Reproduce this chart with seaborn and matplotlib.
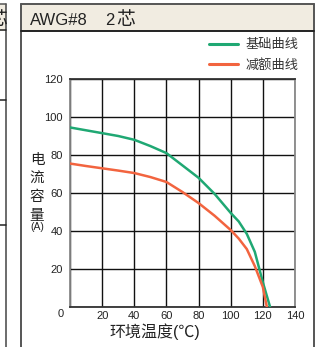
import matplotlib
matplotlib.use("Agg")
import matplotlib.pyplot as plt
import matplotlib.transforms as mtrans
from matplotlib.patches import Rectangle
from matplotlib.lines import Line2D
import seaborn as sns
import pandas as pd

# ---- data ----
temp_base = [0, 10, 20, 30, 40, 50, 60, 70, 80, 90, 100, 105, 110, 115, 120, 124.5]
amp_base = [94.5, 93, 91.5, 90, 88, 84.7, 81, 74.5, 68, 59.5, 49.5, 45, 38.5, 29, 13, 0]
temp_derate = [0, 10, 20, 30, 40, 50, 60, 70, 80, 90, 100, 105, 110, 115, 120, 122.5]
amp_derate = [75.5, 74.2, 73, 71.8, 70.5, 68.4, 65.8, 60.5, 54.7, 48, 40.5, 36, 30.5, 21.5, 10.5, 0]
series_names = ["基础曲线", "减额曲线"]
x_ticks = [0, 20, 40, 60, 80, 100, 120, 140]
y_ticks = [0, 20, 40, 60, 80, 100, 120]
title_parts = ["AWG#8", "2", "芯"]
x_label = "环境温度(℃)"
y_label_chars = ["电", "流", "容", "量"]
y_unit = "(A)"

df = pd.concat([
    pd.DataFrame({"t": temp_base, "a": amp_base, "s": series_names[0]}),
    pd.DataFrame({"t": temp_derate, "a": amp_derate, "s": series_names[1]}),
])

sns.set_theme(style="white")
plt.rcParams["font.family"] = ["Liberation Sans", "Noto Sans CJK SC"]

W, H = 319, 347
fig = plt.figure(figsize=(W / 100, H / 100), dpi=100)

def fx(px):
    return px / W

def fy(py):
    return 1 - py / H

# outer panel frames and title bands
for x0, x1 in [(21, 314), (0, 6)]:
    fig.patches.append(Rectangle((fx(x0), fy(31)), fx(x1) - fx(x0), fy(4) - fy(31),
                                 transform=fig.transFigure, facecolor="#f1ece1",
                                 edgecolor="none", zorder=0))
for xs, ys, c, lw in [
    ([21, 21], [4, 347], "#555555", 1.4),
    ([314, 314], [4, 347], "#555555", 1.4),
    ([21, 314], [4, 4], "#555555", 1.4),
    ([21, 314], [31, 31], "#222222", 1.4),
    ([6, 6], [4, 347], "#444444", 1.1),
    ([0, 6], [4, 4], "#555555", 1.1),
    ([0, 6], [30, 30], "#222222", 1.1),
    ([0, 6], [100, 100], "#222222", 1.1),
    ([0, 6], [225, 225], "#222222", 1.1),
]:
    fig.add_artist(Line2D([fx(v) for v in xs], [fy(v) for v in ys],
                          transform=fig.transFigure, color=c, lw=lw))

fig.text(fx(30), fy(25), title_parts[0], fontsize=12, color="#222222", ha="left", va="baseline")
fig.text(fx(105), fy(25), title_parts[1], fontsize=12, color="#222222", ha="left", va="baseline")
fig.text(fx(116), fy(25.5), title_parts[2], fontsize=13.5, color="#222222", ha="left", va="baseline")
fig.text(fx(7), fy(25.5), title_parts[2], fontsize=13.5, color="#222222", ha="right", va="baseline")

ax = fig.add_axes([fx(70), fy(307), fx(295) - fx(70), fy(79) - fy(307)])
sns.lineplot(data=df, x="t", y="a", hue="s", palette=["#1fa873", "#f2643f"],
             linewidth=1.8, ax=ax, sort=False, estimator=None, zorder=3)
ax.set_xlim(0, 140)
ax.set_ylim(0, 120)
ax.set_xticks(x_ticks)
ax.set_xticklabels([""] + [str(v) for v in x_ticks[1:]])
ax.set_yticks(y_ticks)
ax.set_yticklabels([str(v) for v in y_ticks])
ax.tick_params(axis="both", length=0, labelsize=8, colors="#222222")
ax.tick_params(axis="x", pad=3.0)
ax.tick_params(axis="y", pad=5)
zero = ax.get_yticklabels()[0]
zero.set_transform(zero.get_transform() + mtrans.ScaledTranslation(0.01, -0.06, fig.dpi_scale_trans))
ax.grid(True, color="#111111", linewidth=1.0)
ax.set_axisbelow(True)
for side, c in [("left", "#888888"), ("right", "#888888"), ("top", "#333333"), ("bottom", "#333333")]:
    ax.spines[side].set_color(c)
    ax.spines[side].set_linewidth(1.3)
ax.set_xlabel("")
ax.set_ylabel("")

handles, labels = ax.get_legend_handles_labels()
leg = ax.legend(handles, labels, loc="upper right", bbox_to_anchor=(fx(299), fy(39)),
                bbox_transform=fig.transFigure, frameon=False, fontsize=9.5,
                handlelength=2.2, handletextpad=0.6, labelspacing=0.6,
                borderaxespad=0, borderpad=0)
for t in leg.get_texts():
    t.set_color("#333333")
for h in leg.legend_handles:
    h.set_linewidth(2.2)

fig.text(fx(155), fy(332), x_label, fontsize=11.5, color="#222222", ha="center", va="center")
for ch, py in zip(y_label_chars, [160, 179, 197, 216]):
    fig.text(fx(37), fy(py), ch, fontsize=10.5, color="#222222", ha="center", va="center")
fig.text(fx(37), fy(227), y_unit, fontsize=7.5, color="#222222", ha="center", va="center")

fig.savefig("out.png", dpi=100)
